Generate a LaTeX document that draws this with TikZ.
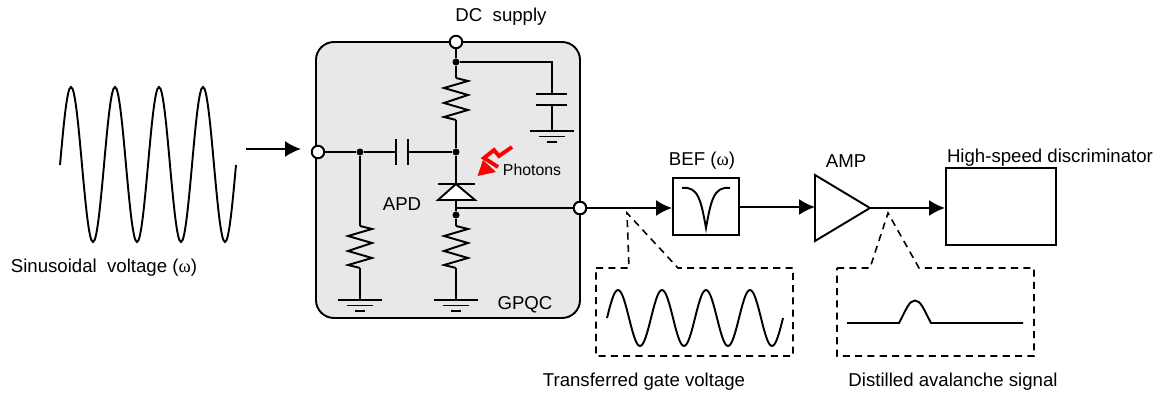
\documentclass[tikz,border=0pt]{standalone}
\usepackage{fontspec}
\setmainfont{Liberation Sans}
\newfontfamily\omegafont{Liberation Serif}
\usetikzlibrary{arrows.meta}
\newcommand{\om}{{\omegafont ω}}
\tikzset{
	wire/.style={line width=1.1pt},
	sig/.style={wire,-{Latex[length=.32cm,width=.32cm]}},
	callout/.style={line width=.9pt,dash pattern=on 4pt off 3pt},
	terminal/.style={circle,draw,fill=white,line width=1.1pt,minimum size=.25cm,inner sep=0pt},
	junction/.style={circle,fill=black,minimum size=.14cm,inner sep=0pt},
	label/.style={font=\fontsize{10.6}{12}\selectfont,inner sep=0pt},
	resistor/.pic={\draw[wire] (0,0) -- (12,3) -- (-12,10) -- (12,17) -- (-12,25) -- (12,32) -- (-12,39) -- (0,42);},
	ground/.pic={
		\draw[wire] (-22,0) -- (22,0);
		\draw[wire] (-13,5.5) -- (13,5.5);
		\draw[wire] (-5,11) -- (5,11);
	}
}
\begin{document}
\begin{tikzpicture}[x=.02cm,y=-.02cm]
	\useasboundingbox (0,0) rectangle (1160,394);
	% GPQC box
	\draw[wire,fill=black!9,rounded corners=.36cm] (316,42) rectangle (580,318);
	% terminals and junctions
	\node[terminal] (vdc) at (456,42) {};
	\node[terminal] (vin) at (318,152) {};
	\node[terminal] (vout) at (580,208) {};
	\node[junction] (jtop) at (456,62) {};
	\node[junction] (jleft) at (360,152) {};
	\node[junction] (japd) at (456,152) {};
	\node[junction] (jout) at (456,215) {};
	% resistors
	\pic (rtop) at (456,78) {resistor};
	\pic (rleft) at (360,226) {resistor};
	\pic (rbot) at (456,226) {resistor};
	\coordinate (rtopa) at (456,78);
	\coordinate (rtopb) at (456,120);
	\coordinate (rlefta) at (360,226);
	\coordinate (rleftb) at (360,268);
	\coordinate (rbota) at (456,226);
	\coordinate (rbotb) at (456,268);
	% grounds
	\pic at (552,131) {ground};
	\pic at (360,300) {ground};
	\pic at (456,300) {ground};
	\coordinate (gcap) at (552,131);
	\coordinate (gleft) at (360,300);
	\coordinate (gbot) at (456,300);
	% capacitors
	\draw[wire] (396,139) -- (396,165);
	\draw[wire] (408,139) -- (408,165);
	\coordinate (cla) at (396,152);
	\coordinate (clb) at (408,152);
	\draw[wire] (536,94) -- (567,94);
	\draw[wire] (536,105) -- (567,105);
	\coordinate (cra) at (552,94);
	\coordinate (crb) at (552,105);
	% wiring
	\draw[wire] (vdc) -- (jtop) -- (rtopa);
	\draw[wire] (rtopb) -- (japd);
	\draw[wire] (jtop) -| (cra);
	\draw[wire] (crb) -- (gcap);
	\draw[wire] (vin) -- (jleft) -- (cla);
	\draw[wire] (clb) -- (japd);
	\draw[wire] (jleft) -- (rlefta);
	\draw[wire] (rleftb) -- (gleft);
	\draw[wire] (rbotb) -- (gbot);
	% APD
	\coordinate (apdk) at (456,184);
	\coordinate (apda) at (456,200);
	\draw[wire] (japd) -- (apdk);
	\draw[wire] (apda) -- (jout) -- (rbota);
	\draw[wire] (438,184) -- (475,184);
	\draw[wire,fill=white] (apdk) -- (475,200) -- (438,200) -- cycle;
	\draw[wire] (456,208) -- (vout);
	\node[terminal] at (vout) {};
	% photons
	\draw[red,line width=2.2pt] (512,147) -- (499,156) -- (494,150) -- (484,158) -- (498,167);
	\fill[red] (477.5,176) -- (483,160) -- (496,172) -- cycle;
	\node[label,font=\fontsize{9}{11}\selectfont] (photons) at (532,170) {Photons};
	% input signal
	\draw[wire] (60,165) sin (71,87) cos (82,165) sin (93,242) cos (104,165) sin (115,87) cos (126,165) sin (137,242) cos (148,165) sin (159,87) cos (170,165) sin (181,242) cos (192,165) sin (203,87) cos (214,165) sin (225,242) cos (236,165);
	\coordinate (vstart) at (246,149);
	\coordinate (vtip) at (301,149);
	\draw[sig] (vstart) -- (vtip);
	% signal chain
	\node[draw,wire,minimum width=1.32cm,minimum height=1.14cm,inner sep=0pt] (bef) at (706,206.5) {};
	\draw[wire] (682,188) .. controls (698,186) and (701,200) .. (706,228) .. controls (711,200) and (714,186) .. (730,188);
	\draw[wire] (815,175) -- (870,208) -- (815,241) -- cycle;
	\coordinate (ampin) at (815,207);
	\coordinate (befout) at (bef.east |- ampin);
	\coordinate (ampout) at (870,208);
	\node[draw,wire,minimum width=2.2cm,minimum height=1.54cm,inner sep=0pt] (disc) at (1001,206.5) {};
	\draw[sig] (vout) -- (bef.west |- vout);
	\draw[sig] (befout) -- (ampin);
	\draw[sig] (ampout) -- (disc.west |- ampout);
	% dashed callouts
	\draw[callout] (596,268) -- (629,268) -- (627,213) -- (678,268) -- (793,268) -- (793,356) -- (596,356) -- cycle;
	\draw[callout] (837,268) -- (870,268) -- (888,213) -- (919,268) -- (1034,268) -- (1034,356) -- (837,356) -- cycle;
	\draw[wire] (607,318) sin (618,290) cos (629,318) sin (640,346) cos (651,318) sin (662,290) cos (673,318) sin (684,346) cos (695,318) sin (706,290) cos (717,318) sin (728,346) cos (739,318) sin (750,290) cos (761,318) sin (772,346) cos (783,318);
	\draw[wire] (847,323) -- (899,323) .. controls (906,310) and (909,300.5) .. (915,300.5) .. controls (921,300.5) and (924,310) .. (931,323) -- (1023,323);
	% labels
	\node[label] (lsin) at (104,268) {Sinusoidal\ \ voltage (\om)};
	\node[label] (ldc) at (501,17) {DC\ \ supply};
	\node[label] (lapd) at (402,204) {APD};
	\node[label] (lgpqc) at (525,305) {GPQC};
	\node[label] (lbef) at (702,161) {BEF (\om)};
	\node[label] (lamp) at (846,161) {AMP};
	\node[label] (ldisc) at (1050,158) {High-speed discriminator};
	\node[label] (lgate) at (644,382) {Transferred gate voltage};
	\node[label] (laval) at (953,382) {Distilled avalanche signal};
\end{tikzpicture}
\end{document}
